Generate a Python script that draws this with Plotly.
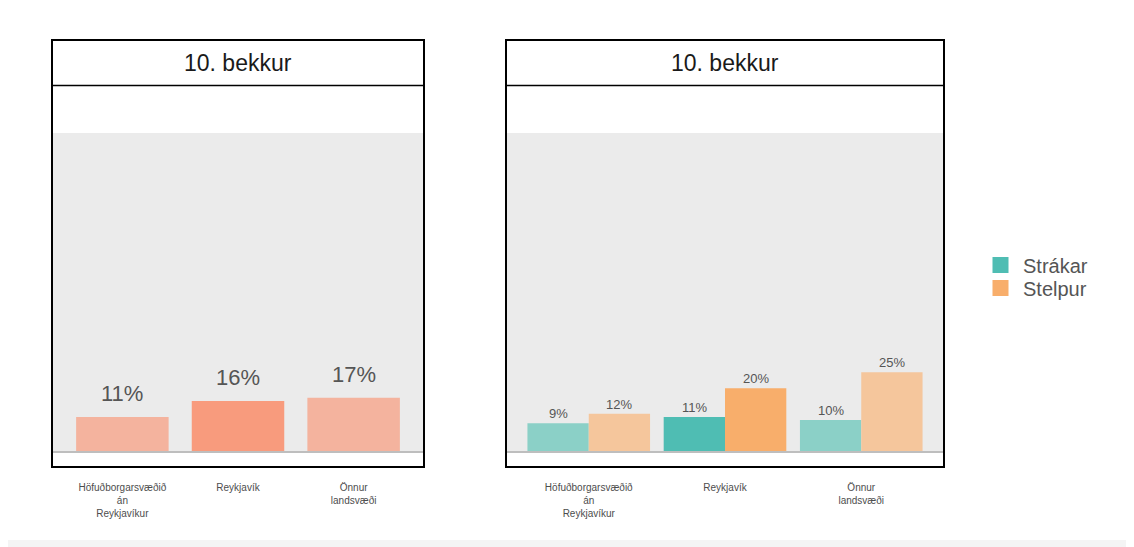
import plotly.graph_objects as go

# the page puts the figure 8px in from the top-left corner
OX, OY = 8, 8
W, H = 1134 - OX, 547 - OY

# data
categories = ["Höfuðborgarsvæðið án Reykjavíkur", "Reykjavík", "Önnur landsvæði"]
tick_text = ["Höfuðborgarsvæðið<br>án<br>Reykjavíkur", "Reykjavík", "Önnur<br>landsvæði"]
panel_title = "10. bekkur"
total_pct = [11, 16, 17]
boys_pct = [9, 11, 10]
girls_pct = [12, 20, 25]
series_names = ["Strákar", "Stelpur"]

COLORS = {
    "total": ["#F4B39E", "#F89B7D", "#F4B39E"],
    "boys": ["#8BD0C7", "#4FBDB3", "#8BD0C7"],
    "girls": ["#F5C69C", "#F8AE6B", "#F5C69C"],
    "boys_key": "#4FBDB3",
    "girls_key": "#F8AE6B",
    "panel_bg": "#EBEBEB",
    "text": "#555555",
}
FONT = "Liberation Sans, Arial, sans-serif"


def px(x):
    """Page pixel x -> paper coordinate."""
    return (x - OX) / W


def py(y):
    """Page pixel y -> paper coordinate."""
    return 1 - (y - OY) / H


# pixel geometry of the two panels (outer border), in page pixels
PANELS = [(52, 424), (506, 944)]
TOP, STRIP_BOTTOM, BOTTOM = 40, 86, 467
ZERO_Y, HUNDRED_Y = 452, 133
scale = (ZERO_Y - HUNDRED_Y) / 100.0
y_range = [-(BOTTOM - 1 - ZERO_Y) / scale, 100 + (HUNDRED_Y - STRIP_BOTTOM) / scale]

fig = go.Figure()

# panel 1: total
fig.add_trace(go.Bar(
    x=categories, y=total_pct, width=0.8, offset=-0.4,
    marker=dict(color=COLORS["total"], line=dict(width=0)),
    showlegend=False, hoverinfo="skip", xaxis="x", yaxis="y",
))

# panel 2: by gender
fig.add_trace(go.Bar(
    x=categories, y=boys_pct, width=0.45, offset=-0.45,
    marker=dict(color=COLORS["boys"], line=dict(width=0)),
    name=series_names[0], showlegend=False, xaxis="x2", yaxis="y2",
))
fig.add_trace(go.Bar(
    x=categories, y=girls_pct, width=0.45, offset=0,
    marker=dict(color=COLORS["girls"], line=dict(width=0)),
    name=series_names[1], showlegend=False, xaxis="x2", yaxis="y2",
))

# legend keys, one legend box each so the spacing can be set
for k, (name, col) in enumerate(zip(series_names, [COLORS["boys_key"], COLORS["girls_key"]])):
    fig.add_trace(go.Scatter(
        x=[None], y=[None], mode="markers", name=name,
        marker=dict(symbol="square", size=18, color=col),
        xaxis="x2", yaxis="y2", legend="legend" if k == 0 else "legend2",
    ))

annotations = []
for i, v in enumerate(total_pct):
    annotations.append(dict(
        x=i, y=v, xref="x", yref="y", text=f"{v}%", showarrow=False,
        yanchor="bottom", yshift=9, font=dict(size=22, color=COLORS["text"]),
    ))
for i, (b, g) in enumerate(zip(boys_pct, girls_pct)):
    for xpos, v in [(i - 0.225, b), (i + 0.225, g)]:
        annotations.append(dict(
            x=xpos, y=v, xref="x2", yref="y2", text=f"{v}%", showarrow=False,
            yanchor="bottom", yshift=0, font=dict(size=13, color=COLORS["text"]),
        ))

shapes = [
    # white card on grey page
    dict(type="rect", xref="paper", yref="paper", x0=px(7), x1=px(1128),
         y0=py(540), y1=py(5), fillcolor="white", line=dict(width=0), layer="below"),
]
for k, (x0, x1) in enumerate(PANELS):
    xa = "x" if k == 0 else "x2"
    ya = "y" if k == 0 else "y2"
    shapes += [
        dict(type="rect", xref=f"{xa} domain", yref=ya, x0=0, x1=1, y0=0, y1=100,
             fillcolor=COLORS["panel_bg"], line=dict(width=0), layer="below"),
        dict(type="line", xref=f"{xa} domain", yref=ya, x0=0, x1=1, y0=0, y1=0,
             line=dict(color="#BEBEBE", width=2), layer="above"),
        dict(type="rect", xref="paper", yref="paper", x0=px(x0), x1=px(x1),
             y0=py(BOTTOM), y1=py(TOP), line=dict(color="black", width=2),
             fillcolor="rgba(0,0,0,0)", layer="above"),
        dict(type="line", xref="paper", yref="paper", x0=px(x0), x1=px(x1),
             y0=py(STRIP_BOTTOM - 0.5), y1=py(STRIP_BOTTOM - 0.5),
             line=dict(color="black", width=1.5), layer="above"),
    ]
    annotations.append(dict(
        x=px((x0 + x1) / 2), y=py((TOP + STRIP_BOTTOM) / 2), xref="paper", yref="paper",
        text=panel_title, showarrow=False, xanchor="center", yanchor="middle",
        font=dict(size=23, color="#1A1A1A"),
    ))

xaxis_common = dict(
    type="category", range=[-0.6, 2.6], tickvals=categories, ticktext=tick_text,
    ticks="outside", ticklen=12, tickcolor="rgba(0,0,0,0)",
    showgrid=False, zeroline=False, showline=False,
    tickfont=dict(size=10, color="#4D4D4D"), fixedrange=True,
)
yaxis_common = dict(
    range=y_range, showticklabels=False, showgrid=False, zeroline=False,
    showline=False, ticks="", fixedrange=True,
)
legend_common = dict(
    x=px(978), xanchor="left", yanchor="middle",
    font=dict(size=20, color=COLORS["text"]), bgcolor="rgba(0,0,0,0)",
    itemsizing="trace", itemwidth=35,
)

fig.update_layout(
    width=W, height=H,
    margin=dict(l=0, r=0, t=0, b=0),
    paper_bgcolor="#F4F4F4",
    plot_bgcolor="rgba(0,0,0,0)",
    font=dict(family=FONT, color=COLORS["text"]),
    barmode="overlay",
    xaxis=dict(domain=[px(PANELS[0][0] + 1), px(PANELS[0][1] - 1)], anchor="y", **xaxis_common),
    yaxis=dict(domain=[py(BOTTOM - 1), py(STRIP_BOTTOM)], anchor="x", **yaxis_common),
    xaxis2=dict(domain=[px(PANELS[1][0] + 1), px(PANELS[1][1] - 1)], anchor="y2", **xaxis_common),
    yaxis2=dict(domain=[py(BOTTOM - 1), py(STRIP_BOTTOM)], anchor="x2", **yaxis_common),
    legend=dict(y=py(265), **legend_common),
    legend2=dict(y=py(288), **legend_common),
    shapes=shapes,
    annotations=annotations,
)

fig.write_html("out.html")
